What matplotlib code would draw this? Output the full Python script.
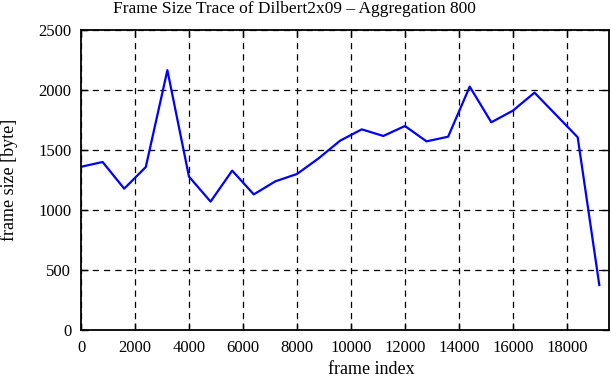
import matplotlib
matplotlib.use('Agg')
import matplotlib.pyplot as plt
import numpy as np

# frame index (every 800 frames) and aggregated frame size
frame_index = [0, 800, 1600, 2400, 3200, 4000, 4800, 5600, 6400, 7200,
               8000, 8800, 9600, 10400, 11200, 12000, 12800, 13600, 14400,
               15200, 16000, 16800, 17600, 18400, 19200]
frame_size = [1360, 1400, 1178, 1358, 2165, 1278, 1070, 1328, 1130, 1239,
              1300, 1430, 1578, 1672, 1617, 1700, 1572, 1611, 2028,
              1731, 1828, 1978, 1792, 1606, 375]

x_ticks = [0, 2000, 4000, 6000, 8000, 10000, 12000, 14000, 16000, 18000]
y_ticks = [0, 500, 1000, 1500, 2000, 2500]

plt.rcParams['font.family'] = 'Liberation Serif'
plt.rcParams['font.size'] = 12

fig = plt.figure(figsize=(6.11, 3.80), dpi=100)
ax = fig.add_axes([81/611, 50/380, 528/611, 300/380])

ax.plot(frame_index, frame_size, color='#0000ff', linewidth=1.6)

ax.set_xlim(0, 19560)
ax.set_ylim(0, 2500)
ax.set_xticks(x_ticks)
ax.set_yticks(y_ticks)
ax.grid(True, color='black', linestyle=(0, (5, 4)), linewidth=0.9)
ax.tick_params(direction='in', top=True, right=True, length=5, width=1)
ax.tick_params(axis='x', pad=7)
ax.tick_params(axis='y', pad=7)
for s in ax.spines.values():
    s.set_linewidth(1.3)

fig.text(294/611, 1 - 9/380, 'Frame Size Trace of Dilbert2x09 \u2013 Aggregation 800',
         fontsize=12.5, ha='center', va='center')
ax.set_xlabel('frame index', fontsize=13)
ax.xaxis.set_label_coords(290/528, -(370 - 330)/300)
ax.xaxis.label.set_va('center')
ax.set_ylabel('frame size [byte]', fontsize=13)
ax.yaxis.set_label_coords((9 - 81)/528, 0.5)
ax.yaxis.label.set_va('center')

fig.savefig('out.png', dpi=100)
